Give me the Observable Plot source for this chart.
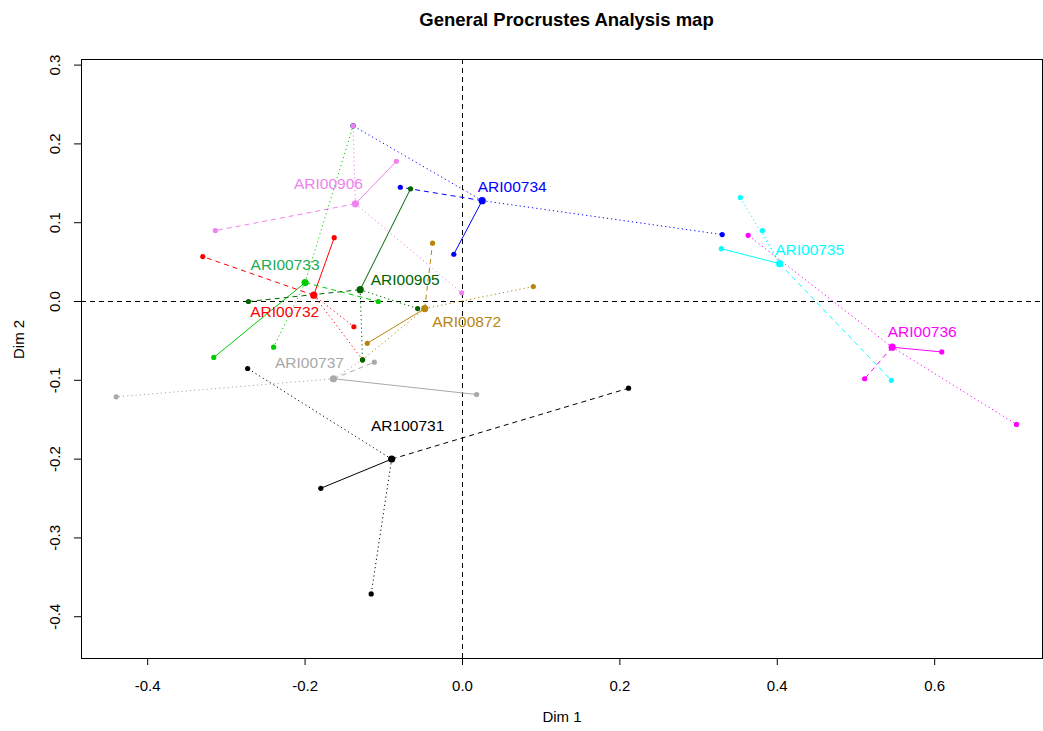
<!DOCTYPE html>
<html>
<head>
<meta charset="utf-8">
<script src="https://cdn.jsdelivr.net/npm/d3@7"></script>
<script src="https://cdn.jsdelivr.net/npm/@observablehq/plot@0.6"></script>
<style>
  body { margin: 0; background: white; font-family: "Liberation Sans", Arial, sans-serif; }
  #title { height: 40px; line-height: 40px; text-align: center; font-weight: bold; font-size: 18.5px; color: #000; width: 971px; padding-left: 81px; box-sizing: content-box; }
</style>
</head>
<body>
<div id="title">General Procrustes Analysis map</div>
<div id="chart"></div>
<script>
// ---- data ----
const products = ["AR100731","ARI00732","ARI00733","ARI00734","ARI00735","ARI00736","ARI00737","ARI00872","ARI00905","ARI00906"];
const meanX = [-0.090,-0.189,-0.200, 0.025, 0.403, 0.546,-0.164,-0.048,-0.130,-0.136];
const meanY = [-0.200, 0.008, 0.024, 0.128, 0.048,-0.058,-0.098,-0.009, 0.015, 0.124];
// partial points, group 1 (solid)
const g1X = [-0.180,-0.163,-0.316,-0.011, 0.329, 0.609, 0.018,-0.121,-0.066,-0.084];
const g1Y = [-0.237, 0.081,-0.071, 0.060, 0.067,-0.064,-0.118,-0.053, 0.143, 0.178];
// group 2 (dashed)
const g2X = [ 0.211,-0.330,-0.107,-0.079, 0.545, 0.511,-0.112,-0.038,-0.272,-0.314];
const g2Y = [-0.110, 0.057, 0.000, 0.145,-0.100,-0.098,-0.077, 0.074, 0.000, 0.090];
// group 3 (dotted)
const g3X = [-0.273,-0.138,-0.240, 0.330, 0.353, 0.363,-0.440, 0.090,-0.057,-0.001];
const g3Y = [-0.085,-0.032,-0.058, 0.085, 0.132, 0.084,-0.121, 0.019,-0.009, 0.011];
// group 4 (dotted)
const g4X = [-0.116,-0.127,-0.139,-0.139, 0.381, 0.704,-0.127,-0.127,-0.127,-0.139];
const g4Y = [-0.371,-0.074, 0.223, 0.223, 0.090,-0.156,-0.074,-0.074,-0.074, 0.223];
const xTicks = [-0.4,-0.2,0.0,0.2,0.4,0.6];
const yTicks = [-0.4,-0.3,-0.2,-0.1,0.0,0.1,0.2,0.3];

// ---- styles ----
const colors = ["#000000","#FF0000","#00CD00","#0000FF","#00FFFF","#FF00FF","#A9A9A9","#B8860B","#006400","#EE82EE"];
const labelColors = ["#000000","#FF0000","#1FAA55","#0000FF","#00FFFF","#FF00FF","#A9A9A9","#B8860B","#006400","#EE82EE"];
const labelOffsets = { // pixels, label centre relative to mean point
  AR100731:[16,-33], ARI00732:[-29,17], ARI00733:[-20,-18], ARI00734:[30,-14], ARI00735:[30,-14],
  ARI00736:[30,-15], ARI00737:[-24,-16], ARI00872:[42,13], ARI00905:[45,-10], ARI00906:[-27,-20]
};
const groupDash = ["none","5,4","1.2,3","1.2,3"];

// ---- build tables ----
const groupsX = [g1X,g2X,g3X,g4X], groupsY = [g1Y,g2Y,g3Y,g4Y];
const means = products.map((p,i) => ({product:p, x:meanX[i], y:meanY[i]}));
const partials = [];
groupsX.forEach((gx,g) => products.forEach((p,i) => partials.push({
  product:p, group:g, mx:meanX[i], my:meanY[i], x:gx[i], y:groupsY[g][i]
})));

const FONT = "Liberation Sans, Arial, Helvetica, sans-serif";
const marks = [
  Plot.ruleX([0], {stroke:"black", strokeDasharray:"5,4", strokeWidth:1}),
  Plot.ruleY([0], {stroke:"black", strokeDasharray:"5,4", strokeWidth:1}),
];
groupDash.forEach((dash,g) => {
  marks.push(Plot.link(partials.filter(d => d.group === g), {
    x1:"mx", y1:"my", x2:"x", y2:"y", stroke:"product",
    strokeWidth:1, strokeDasharray: dash === "none" ? undefined : dash
  }));
});
marks.push(
  Plot.dot(partials, {x:"x", y:"y", fill:"product", r:2.6, stroke:"none"}),
  Plot.dot(means, {x:"x", y:"y", fill:"product", r:3.6, stroke:"none"})
);
products.forEach((p,i) => {
  const [dx,dy] = labelOffsets[p];
  marks.push(Plot.text([means[i]], {x:"x", y:"y", text:"product", fill:labelColors[i],
    dx, dy, fontSize:15.5, fontFamily:FONT, textAnchor:"middle", lineAnchor:"middle"}));
});
marks.push(
  Plot.frame({stroke:"black", strokeWidth:1}),
  Plot.axisX({ticks:xTicks, tickSize:7, tickPadding:15, tickFormat:d => d.toFixed(1), fontSize:15, fontFamily:FONT, label:null}),
  Plot.axisY({ticks:yTicks, tickSize:7, tickFormat:() => "", label:null}),
  Plot.text(yTicks, {y:d => d, text:d => d.toFixed(1), frameAnchor:"left", dx:-26, rotate:-90,
    fontSize:15, fontFamily:FONT, textAnchor:"middle", lineAnchor:"middle"}),
  Plot.text(["Dim 1"], {frameAnchor:"bottom", dy:59, fontSize:15, fontFamily:FONT, lineAnchor:"middle"}),
  Plot.text(["Dim 2"], {frameAnchor:"left", dx:-62, rotate:-90, fontSize:15, fontFamily:FONT, lineAnchor:"middle"})
);

const chart = Plot.plot({
  width:1043, height:691,
  marginLeft:81, marginRight:1, marginTop:19, marginBottom:73,
  x:{domain:[-0.4841,0.7370], axis:null},
  y:{domain:[-0.4530,0.3071], axis:null},
  color:{domain:products, range:colors},
  style:{fontFamily:FONT, fontSize:"15px", background:"white", color:"black", overflow:"visible"},
  marks
});
document.getElementById("chart").appendChild(chart);
</script>
</body>
</html>
